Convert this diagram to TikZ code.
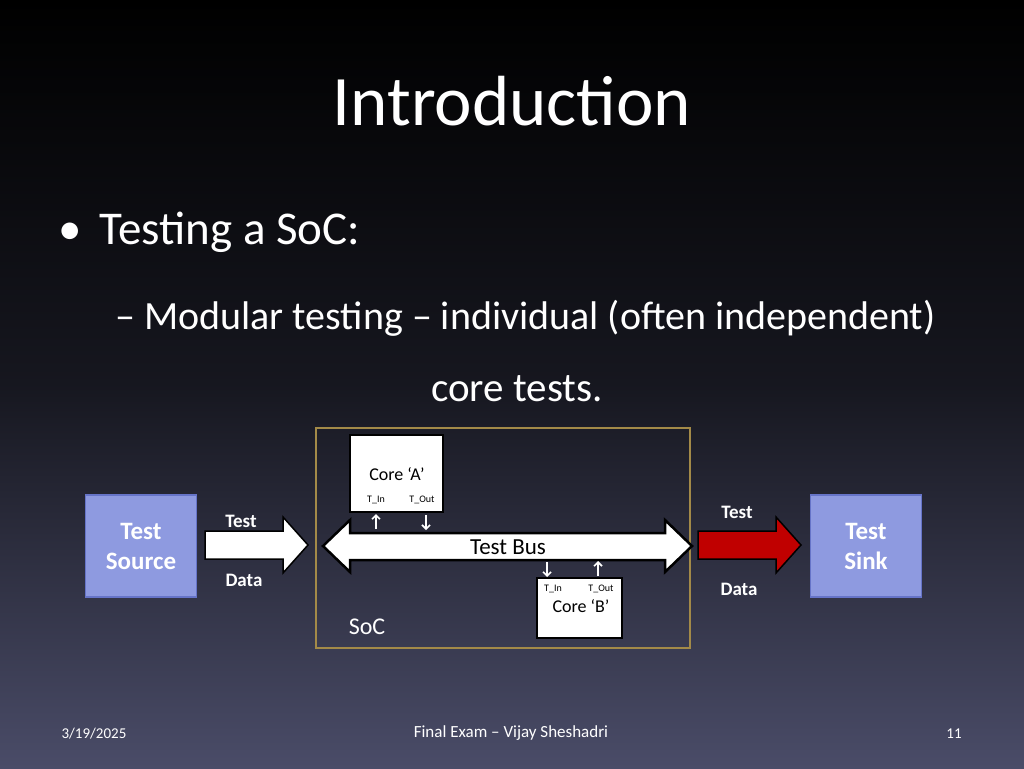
\documentclass[tikz,border=0pt]{standalone}
\usepackage{fontspec}
\setmainfont{Carlito}
\usepackage{tikz}
\usetikzlibrary{arrows.meta}
\newcommand{\fsz}[1]{\fontsize{#1}{#1}\selectfont}
\definecolor{boxblue}{HTML}{8E9AE0}
\definecolor{boxedge}{HTML}{6674C8}
\definecolor{socgold}{HTML}{A38A48}
\definecolor{bgbottom}{HTML}{4A4C68}
\definecolor{darkred}{HTML}{C00000}
\begin{document}
\begin{tikzpicture}[x=1pt,y=-1pt,
    txt/.style={text=white,inner sep=0pt},
    endbox/.style={fill=boxblue,draw=boxedge,line width=1.5pt,minimum width=111pt,minimum height=102pt,text=white,font=\fontsize{25}{30}\selectfont\bfseries,align=center,inner sep=0pt},
    corebox/.style={fill=white,draw=black,line width=2pt,inner sep=0pt},
    tag/.style={font=\fsz{10},inner sep=0pt},
    small/.style={-{Straight Barb[length=4pt,width=8pt]},white,line width=1.6pt}]
        % Background
        \shade[top color=black,bottom color=bgbottom,middle color=black!70!bgbottom,shading angle=0] (0,0) rectangle (1024,768);
        \useasboundingbox (0,0) rectangle (1024,768);
        % Slide text
        \node[txt,font=\fsz{71}] (title) at (512,101) {Introduction};
        \node[txt,font=\fsz{47},anchor=west] (bullet) at (58,232) {\textbullet\hspace{18pt}Testing a SoC:};
        \node[txt,font=\fsz{40},anchor=west] (sub) at (115,318) {– Modular testing – individual (often independent)};
        \node[txt,font=\fsz{41}] (sub2) at (517,389) {core tests.};
        \node[txt,font=\fsz{15}] (date) at (94,734) {3/19/2025};
        \node[txt,font=\fsz{17}] (foot) at (511,733) {Final Exam – Vijay Sheshadri};
        \node[txt,font=\fsz{15}] (page) at (954,734) {11};
        % SoC frame
        \draw[socgold,line width=2pt] (316,428) rectangle (690,648);
        \node[txt,font=\fsz{24}] (soc) at (367,627) {SoC};
        % Source and sink
        \node[endbox] (src) at (141,546) {Test\\Source};
        \node[endbox] (sink) at (866,546) {Test\\Sink};
        % Input and output arrows
        \draw[fill=white,line width=1.5pt] (205,531) -- (283,531) -- (283,517) -- (308,545) -- (283,573) -- (283,559) -- (205,559) -- cycle;
        \draw[fill=darkred,line width=1.5pt] (698,531) -- (776,531) -- (776,517) -- (801,545) -- (776,573) -- (776,559) -- (698,559) -- cycle;
        \node[txt,font=\fsz{19}\bfseries] (tin) at (241,521) {Test};
        \node[txt,font=\fsz{19}\bfseries] (din) at (244,580) {Data};
        \node[txt,font=\fsz{19}\bfseries] (tout) at (737,512) {Test};
        \node[txt,font=\fsz{19}\bfseries] (dout) at (739,589) {Data};
        % Test bus
        \draw[fill=white,line width=2.5pt] (323,546) -- (350,520) -- (350,533) -- (665,533) -- (665,520) -- (692,546) -- (665,572) -- (665,560) -- (350,560) -- (350,572) -- cycle;
        \node[font=\fsz{23},inner sep=0pt] (bus) at (508,547) {Test Bus};
        % Cores
        \node[corebox,minimum width=93pt,minimum height=77pt] (corea) at (396.5,473.5) {};
        \node[font=\fsz{18},inner sep=0pt] at (397,474) {Core ‘A’};
        \node[tag] (ain) at (376,500) {T\_In};
        \node[tag] (aout) at (422,500) {T\_Out};
        \node[corebox,minimum width=85pt,minimum height=60pt] (coreb) at (579.5,608) {};
        \node[tag] (bin) at (553,589) {T\_In};
        \node[tag] (bout) at (601,589) {T\_Out};
        \node[font=\fsz{18},inner sep=0pt] at (581,606) {Core ‘B’};
        % Port arrows
        \draw[small] (376,529) -- (376,514);
        \draw[small] (426,515) -- (426,530);
        \draw[small] (547,562) -- (547,577);
        \draw[small] (598,576) -- (598,561);
\end{tikzpicture}
\end{document}
